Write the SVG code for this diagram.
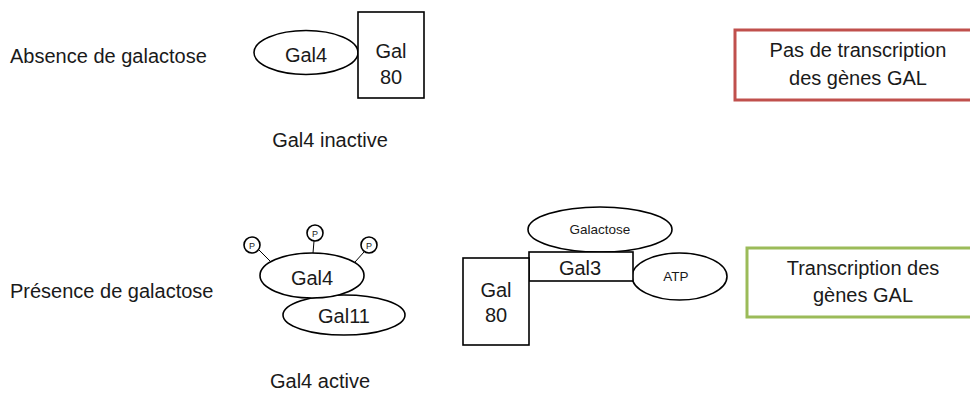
<svg xmlns="http://www.w3.org/2000/svg" width="970" height="394" viewBox="0 0 970 394">
<style>
text{font-family:"Liberation Sans",Arial,sans-serif;fill:#1a1a1a;}
.t20{font-size:20px;}
.sm{font-size:13.5px;}
.p{font-size:9px;}
.mid{text-anchor:middle;}
.sh{fill:#fff;stroke:#000;stroke-width:1.6;}
.ln{stroke:#000;stroke-width:1;fill:none;}
</style>
<rect width="970" height="394" fill="#fff"/>
<g id="label-absence"><text class="t20" x="10" y="63">Absence de galactose</text></g>
<g id="label-presence"><text class="t20" x="10" y="298">Présence de galactose</text></g>
<g id="gal4-top"><ellipse class="sh" cx="306" cy="52.5" rx="52" ry="22"/><text class="t20 mid" x="306" y="62">Gal4</text></g>
<g id="gal80-top"><rect class="sh" x="358" y="12" width="66" height="86"/><text class="t20 mid" x="391" y="58">Gal</text><text class="t20 mid" x="391" y="84">80</text></g>
<g id="label-inactive"><text class="t20 mid" x="330" y="147">Gal4 inactive</text></g>
<g id="box-no"><rect x="735" y="30" width="260" height="70" fill="#fff" stroke="#C0504D" stroke-width="3"/><text class="t20 mid" x="858" y="57">Pas de transcription</text><text class="t20 mid" x="858" y="85">des gènes GAL</text></g>
<g id="connectors"><line class="ln" x1="259" y1="250" x2="270" y2="261"/><line class="ln" x1="314" y1="241" x2="313" y2="253"/><line class="ln" x1="364" y1="252" x2="355" y2="262"/></g>
<g id="p1"><circle class="sh" stroke-width="1" cx="252" cy="245" r="8"/><text class="p mid" x="252" y="248.5">P</text></g>
<g id="p2"><circle class="sh" stroke-width="1" cx="315" cy="233" r="8"/><text class="p mid" x="315" y="236.5">P</text></g>
<g id="p3"><circle class="sh" stroke-width="1" cx="369" cy="245" r="8"/><text class="p mid" x="369" y="248.5">P</text></g>
<g id="gal11"><ellipse class="sh" cx="344" cy="315" rx="61" ry="20"/><text class="t20 mid" x="344" y="323">Gal11</text></g>
<g id="gal4-bottom"><ellipse class="sh" cx="312" cy="275.5" rx="52" ry="22.5"/><text class="t20 mid" x="312" y="285">Gal4</text></g>
<g id="label-active"><text class="t20 mid" x="320" y="388">Gal4 active</text></g>
<g id="galactose"><ellipse class="sh" cx="600" cy="229.5" rx="72" ry="22.5"/><text class="sm mid" x="600" y="234">Galactose</text></g>
<g id="atp"><ellipse class="sh" cx="679.5" cy="276.5" rx="47.5" ry="23.5"/><text class="sm mid" x="676" y="281">ATP</text></g>
<g id="gal3"><rect class="sh" x="529" y="252" width="104" height="29"/><text class="t20 mid" x="580" y="275">Gal3</text></g>
<g id="gal80-bottom"><rect class="sh" x="463" y="258" width="66" height="87"/><text class="t20 mid" x="496" y="297">Gal</text><text class="t20 mid" x="496" y="322">80</text></g>
<g id="box-yes"><rect x="747" y="248" width="250" height="69" fill="#fff" stroke="#9BBB59" stroke-width="3"/><text class="t20 mid" x="863" y="275">Transcription des</text><text class="t20 mid" x="863" y="302">gènes GAL</text></g>
</svg>
